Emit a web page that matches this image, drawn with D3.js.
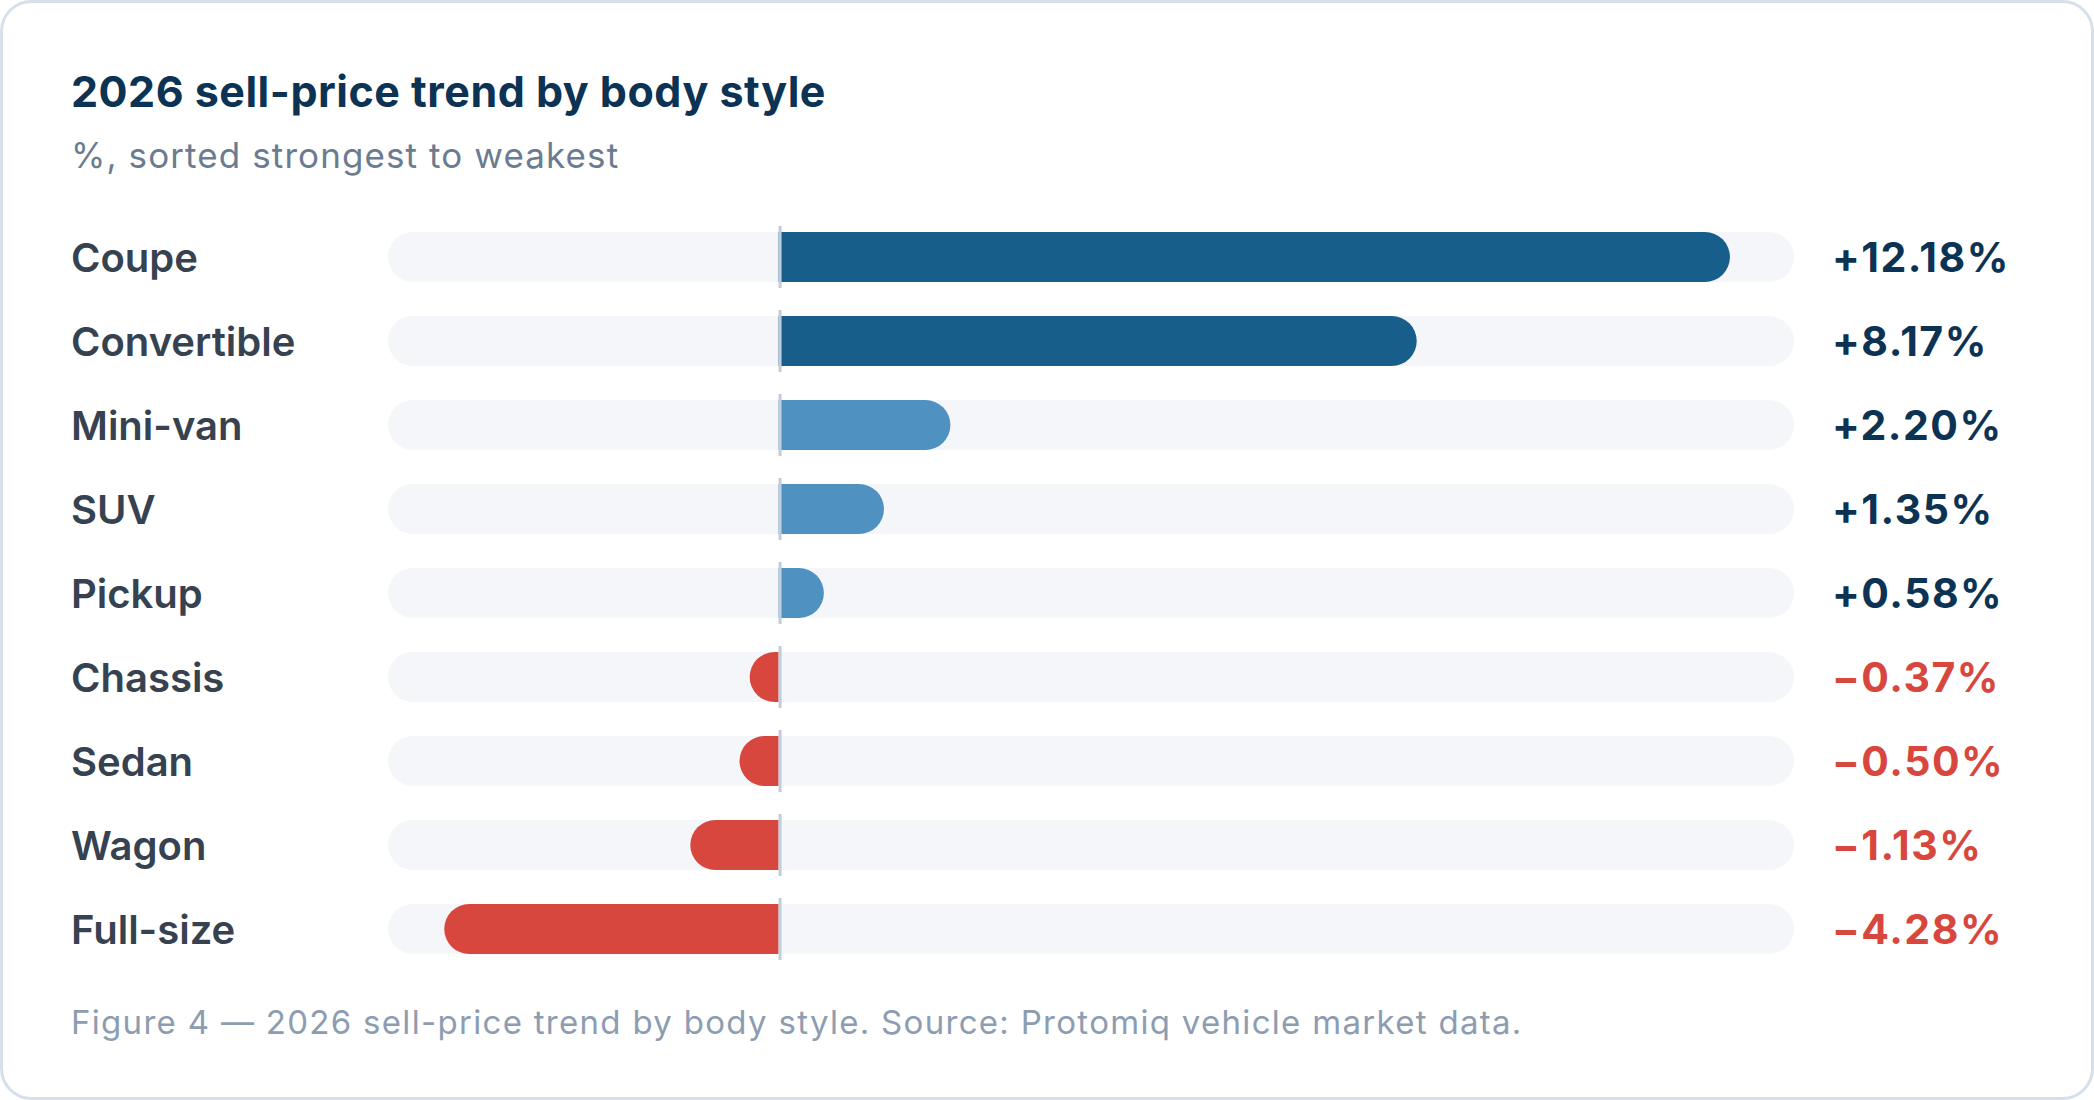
<!DOCTYPE html>
<html lang="en">
<head>
    <meta charset="UTF-8">
    <title>2026 sell-price trend by body style</title>
    <script src="https://d3js.org/d3.v7.min.js"></script>
    <style>
        body { margin: 0; background: #ffffff; font-family: Inter, "Noto Sans", sans-serif; }
        svg { display: block; }
        .title { font-size: 43px; font-weight: 700; fill: #0d3354; letter-spacing: 0.5px; }
        .subtitle { font-size: 35px; font-weight: 400; fill: #6b7c90; letter-spacing: 1.1px; }
        .cat-label { font-size: 40px; font-weight: 600; fill: #36424f; }
        .val-label { font-size: 41px; font-weight: 700; letter-spacing: 1.5px; }
        .footer { font-size: 33px; font-weight: 400; fill: #8d9db1; letter-spacing: 1.3px; }
    </style>
</head>
<body>
    <svg id="chart" width="2094" height="1100"></svg>

    <script>
        // data, sorted strongest to weakest
        const categories = ["Coupe", "Convertible", "Mini-van", "SUV", "Pickup", "Chassis", "Sedan", "Wagon", "Full-size"];
        const values = [12.18, 8.17, 2.20, 1.35, 0.58, -0.37, -0.50, -1.13, -4.28];
        const xDomain = [-5, 13];

        const W = 2094, H = 1100;
        const svg = d3.select("#chart");

        // card
        svg.append("rect")
            .attr("x", 1.5).attr("y", 1.5)
            .attr("width", W - 3).attr("height", H - 3)
            .attr("rx", 30)
            .attr("fill", "#ffffff")
            .attr("stroke", "#d6e0ea")
            .attr("stroke-width", 3);

        svg.append("text").attr("class", "title").attr("x", 71).attr("y", 107)
            .text("2026 sell-price trend by body style");
        svg.append("text").attr("class", "subtitle").attr("x", 71).attr("y", 168)
            .text("%, sorted strongest to weakest");

        const x = d3.scaleLinear().domain(xDomain).range([388, 1794]);
        const y = d3.scaleBand().domain(categories).range([215, 971])
            .paddingInner(34 / 84).paddingOuter(17 / 84);
        const bh = y.bandwidth();
        const r = bh / 2;

        const rows = categories.map((c, i) => ({ cat: c, v: values[i] }));

        function barColor(v) {
            if (v < 0) return "#d8473d";
            return v >= 5 ? "#175f8a" : "#4f91c1";
        }

        // bar with square end at zero and rounded far end
        function barPath(d) {
            const x0 = x(0), x1 = x(d.v);
            const top = y(d.cat), bot = top + bh;
            const w = Math.abs(x1 - x0);
            const rx = Math.min(r, w);
            if (d.v >= 0) {
                return `M${x0},${top} H${x1 - rx} A${rx},${r} 0 0 1 ${x1},${top + r} A${rx},${r} 0 0 1 ${x1 - rx},${bot} H${x0} Z`;
            }
            return `M${x0},${top} H${x1 + rx} A${rx},${r} 0 0 0 ${x1},${top + r} A${rx},${r} 0 0 0 ${x1 + rx},${bot} H${x0} Z`;
        }

        const g = svg.append("g");

        // background tracks
        g.selectAll(".track").data(rows).enter().append("rect")
            .attr("class", "track")
            .attr("x", x.range()[0])
            .attr("y", d => y(d.cat))
            .attr("width", x.range()[1] - x.range()[0])
            .attr("height", bh)
            .attr("rx", r)
            .attr("fill", "#f4f6fa");

        g.selectAll(".bar").data(rows).enter().append("path")
            .attr("class", "bar")
            .attr("d", barPath)
            .attr("fill", d => barColor(d.v));

        // zero line per row
        g.selectAll(".zero").data(rows).enter().append("line")
            .attr("class", "zero")
            .attr("x1", x(0) + 1.5).attr("x2", x(0) + 1.5)
            .attr("y1", d => y(d.cat) - 6)
            .attr("y2", d => y(d.cat) + bh + 6)
            .attr("stroke", "#c2cddb")
            .attr("stroke-width", 3);

        g.selectAll(".cat-label").data(rows).enter().append("text")
            .attr("class", "cat-label")
            .attr("x", 71)
            .attr("y", d => y(d.cat) + r + 15)
            .text(d => d.cat);

        const fmt = v => (v >= 0 ? "+" : "\u2212") + Math.abs(v).toFixed(2) + "%";
        g.selectAll(".val-label").data(rows).enter().append("text")
            .attr("class", "val-label")
            .attr("x", x.range()[1] + 38)
            .attr("y", d => y(d.cat) + r + 15)
            .attr("fill", d => d.v < 0 ? "#d8473d" : "#0d3354")
            .text(d => fmt(d.v));

        svg.append("text").attr("class", "footer").attr("x", 71).attr("y", 1034)
            .text("Figure 4 \u2014 2026 sell-price trend by body style. Source: Protomiq vehicle market data.");
    </script>
</body>
</html>
